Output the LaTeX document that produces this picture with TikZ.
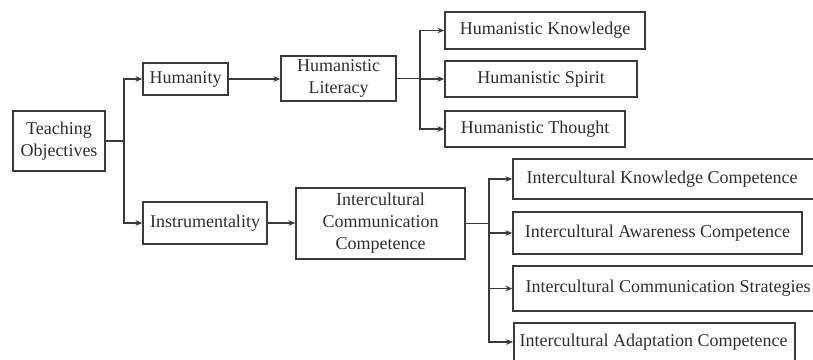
\documentclass[tikz,border=0pt]{standalone}
\usepackage{fontspec}
\setmainfont{Liberation Serif}
\usetikzlibrary{arrows.meta}
\definecolor{ln}{HTML}{3A3A3A}
\definecolor{tx}{HTML}{2E2E2E}
\begin{document}
\begin{tikzpicture}[x=0.5pt,y=-0.5pt,
  box/.style={draw=ln,line width=0.75pt,rectangle,inner sep=0pt,align=center,text=tx,
    font=\fontsize{9}{11}\selectfont},
  lbl/.style={text=tx,inner sep=0pt,font=\fontsize{9}{11}\selectfont},
  conn/.style={draw=ln,line width=0.75pt},
  arr/.style={conn,-{Stealth[length=3.4pt,width=2.8pt]}}]
\useasboundingbox (0,0) rectangle (813,359);
\clip (0,0) rectangle (813,359);
\node[box,minimum width=46pt,minimum height=30pt] (to) at (59,141) {Teaching\\Objectives};
\node[box,minimum width=42.5pt,minimum height=16pt] (hum) at (185.5,79) {Humanity};
\node[box,minimum width=57.5pt,minimum height=22.5pt] (hl) at (338.5,78.5) {Humanistic\\Literacy};
\node[box,minimum width=100pt,minimum height=18.5pt] (hk) at (545,30.5) {Humanistic Knowledge};
\node[box,minimum width=96pt,minimum height=18pt] (hs) at (541,79) {Humanistic Spirit};
\node[box,minimum width=90pt,minimum height=18pt] (ht) at (535,129) {Humanistic Thought};
\node[box,minimum width=62pt,minimum height=21pt] (ins) at (205,223) {Instrumentality};
\node[box,minimum width=84.5pt,minimum height=35.5pt] (icc) at (380.5,223.5) {Intercultural\\Communication\\Competence};
\node[box,minimum width=153.5pt,minimum height=20pt] (ikc) at (666.5,179) {};
\node[lbl] (ikct) at (662,179) {Intercultural Knowledge Competence};
\node[box,minimum width=144.5pt,minimum height=21pt] (iac) at (657.5,233) {Intercultural Awareness Competence};
\node[box,minimum width=153.5pt,minimum height=22.5pt] (ics) at (666.5,288.5) {};
\node[lbl] (icst) at (668,288.5) {Intercultural Communication Strategies};
\node[box,minimum width=140.5pt,minimum height=24pt,anchor=north west] (iad) at (513,322) {};
\node[lbl] (iadt) at (653.5,342) {Intercultural Adaptation Competence};
\coordinate (j1) at (124,141);
\coordinate (j2) at (420,78.5);
\coordinate (j3) at (489,223.5);
\draw[conn] (to.east) -- (j1);
\draw[arr] (j1) |- (hum.west);
\draw[arr] (j1) |- (ins.west);
\draw[arr] (hum.east) -- (hum.east -| hl.west);
\draw[conn] (hl.east) -- (j2);
\draw[arr] (j2) |- (hk.west);
\draw[arr] (j2) |- (hs.west);
\draw[arr] (j2) |- (ht.west);
\draw[arr] (ins.east) -- (ins.east -| icc.west);
\draw[conn] (icc.east) -- (j3);
\draw[arr] (j3) |- (ikc.west);
\draw[arr] (j3) |- (iac.west);
\draw[arr] (j3) |- (ics.west);
\draw[arr] (j3) |- (iad.west |- iadt.west);
\end{tikzpicture}
\end{document}
